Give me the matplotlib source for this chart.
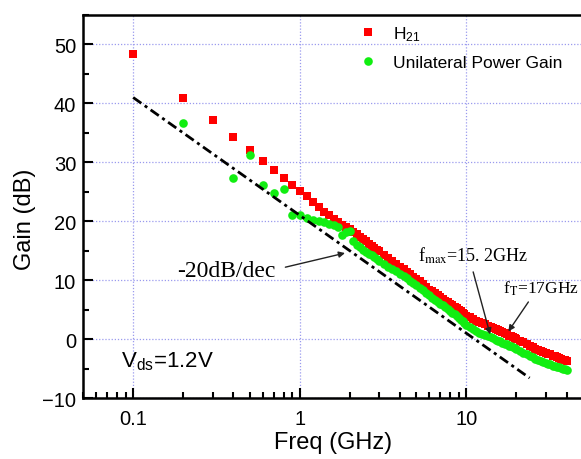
import numpy as np
import matplotlib
matplotlib.use("Agg")
import matplotlib.pyplot as plt
from matplotlib.ticker import MultipleLocator, NullFormatter

plt.rcParams["font.family"] = ["Liberation Sans", "DejaVu Sans"]
plt.rcParams["mathtext.fontset"] = "custom"
plt.rcParams["mathtext.rm"] = "Liberation Sans"
plt.rcParams["mathtext.it"] = "Liberation Sans:italic"

# === Data ===
freq_lo_h21 = [0.1, 0.2, 0.3, 0.4, 0.5, 0.6, 0.7, 0.8, 0.9]
h21_lo = [48.3, 40.9, 37.1, 34.3, 32.1, 30.2, 28.7, 27.4, 26.2]

freq_lo_ug = [0.2, 0.4, 0.5, 0.6, 0.7, 0.8, 0.9]
ug_lo = [36.6, 27.4, 31.3, 26.1, 24.8, 25.4, 21.1]

freq_hi = [1.0, 1.1, 1.2, 1.3, 1.4, 1.5, 1.6, 1.7, 1.8, 1.9,
           2.0, 2.1, 2.2, 2.3, 2.4, 2.5, 2.6, 2.7, 2.8, 2.9, 3.0,
           3.2, 3.4, 3.6, 3.8, 4.0, 4.2, 4.4, 4.6, 4.8, 5.0,
           5.25, 5.5, 5.75, 6.0, 6.25, 6.5, 6.75, 7.0, 7.25, 7.5,
           7.75, 8.0, 8.25, 8.5, 8.75, 9.0, 9.25, 9.5, 9.75, 10.0,
           10.5, 11.0, 11.5, 12.0, 12.5, 13.0, 13.5, 14.0, 14.5, 15.0,
           15.5, 16.0, 16.5, 17.0, 17.5, 18.0, 18.5, 19.0, 19.5, 20.0,
           21, 22, 23, 24, 25, 26, 27, 28, 29, 30,
           31, 32, 33, 34, 35, 36, 37, 38, 39, 40]

h21_hi = [25.1, 24.2, 23.2, 22.4, 21.6, 21.0, 20.4, 19.9, 19.4, 19.0,
          18.6, 18.2, 17.8, 17.4, 17.0, 16.6, 16.2, 15.8, 15.5, 15.2, 14.9,
          14.3, 13.8, 13.3, 12.8, 12.3, 11.9, 11.4, 11.0, 10.6, 10.2,
          9.8, 9.3, 8.9, 8.4, 8.1, 7.8, 7.4, 7.1, 6.8, 6.5,
          6.3, 6.0, 5.7, 5.4, 5.2, 4.9, 4.7, 4.4, 4.2, 4.0,
          3.7, 3.4, 3.1, 2.9, 2.7, 2.5, 2.3, 2.1, 1.9, 1.7,
          1.5, 1.3, 1.2, 1.0, 0.8, 0.6, 0.5, 0.3, 0.2, 0.0,
          -0.3, -0.5, -0.8, -1.1, -1.3, -1.6, -1.8, -2.0, -2.2, -2.3,
          -2.5, -2.6, -2.8, -2.9, -3.1, -3.2, -3.3, -3.5, -3.6, -3.7]

ug_hi = [21.0, 20.5, 20.2, 20.0, 19.8, 19.6, 19.3, 19.0, 17.7, 18.1,
         18.3, 16.6, 16.0, 15.6, 15.2, 14.8, 14.5, 14.2, 13.9, 13.6, 13.3,
         12.8, 12.3, 11.9, 11.5, 11.1, 10.7, 10.3, 9.9, 9.5, 9.2,
         8.7, 8.3, 7.8, 7.4, 7.0, 6.7, 6.3, 6.0, 5.7, 5.4,
         5.1, 4.8, 4.5, 4.2, 3.9, 3.6, 3.3, 3.0, 2.7, 2.4,
         2.1, 1.7, 1.4, 1.1, 0.9, 0.7, 0.5, 0.3, 0.1, -0.1,
         -0.3, -0.4, -0.6, -0.8, -0.9, -1.1, -1.2, -1.4, -1.5, -1.7,
         -2.0, -2.3, -2.6, -2.8, -3.1, -3.3, -3.5, -3.7, -3.9, -4.0,
         -4.2, -4.3, -4.5, -4.6, -4.7, -4.8, -4.9, -5.0, -5.1, -5.2]

# -20 dB/dec guide line
slope_f = [0.1, 24.0]
slope_db = [41.0, -6.6]

# === Plot ===
fig = plt.figure(figsize=(5.81, 4.6), dpi=100)
ax = fig.add_axes([0.1429, 0.1326, 0.86, 0.8326])

ax.plot(freq_lo_h21 + freq_hi, h21_lo + h21_hi, "s", color="#ff0000",
        markersize=5.4, markeredgewidth=0, label="H$_{21}$")
ax.plot(freq_lo_ug + freq_hi, ug_lo + ug_hi, "o", color="#11ee11",
        markersize=6.2, markeredgewidth=0, label="Unilateral Power Gain")
ax.plot(slope_f, slope_db, color="black", lw=2,
        linestyle=(0, (3.6, 1.5, 1.1, 1.5)))

ax.set_xscale("log")
ax.set_xlim(0.05, 50)
ax.set_ylim(-10, 55)
ax.set_xticks([0.1, 1, 10])
ax.set_xticklabels(["0.1", "1", "10"])
ax.xaxis.set_minor_formatter(NullFormatter())
ax.set_yticks([-10, 0, 10, 20, 30, 40, 50])
ax.yaxis.set_minor_locator(MultipleLocator(5))

ax.grid(True, which="major", color="#9a9aee", linestyle=(0, (1, 1.5)), lw=0.9)
ax.tick_params(which="both", direction="in", width=1.5, labelsize=14.5)
ax.tick_params(which="major", length=7)
ax.tick_params(which="minor", length=4)
ax.tick_params(axis="x", pad=8)
ax.tick_params(axis="y", pad=5)
ax.tick_params(top=False, right=False, which="both")
for side in ["left", "bottom", "top"]:
    ax.spines[side].set_linewidth(1.8)
ax.spines["right"].set_visible(False)

ax.set_xlabel("Freq (GHz)", fontsize=17, labelpad=2)
ax.set_ylabel("Gain (dB)", fontsize=17)
ax.yaxis.set_label_coords(-0.094, 0.47)

ax.legend(loc="upper left", bbox_to_anchor=(0.521, 1.017), frameon=False,
          fontsize=12.5, handlelength=1.0, handletextpad=0.95,
          labelspacing=0.68, borderpad=0.4, numpoints=1)

# === Annotations ===
serif = dict(family=["Liberation Serif", "DejaVu Serif"], math_fontfamily="stix")
arrow = dict(arrowstyle="-|>", color="#222222", lw=1,
             mutation_scale=9, shrinkA=0, shrinkB=0)

ax.text(0.184, 11.7, "-20dB/dec", fontsize=17, ha="left", va="center", **serif)
ax.annotate("", xy=(1.87, 14.6), xytext=(0.82, 12.2), arrowprops=arrow)

ax.text(5.14, 14.3, r"f$_{\mathrm{max}}$=15. 2GHz", fontsize=13,
        ha="left", va="center", **serif)
ax.annotate("", xy=(13.9, 0.8), xytext=(11.0, 11.4), arrowprops=arrow)

ax.text(16.6, 8.7, r"f$_{\mathrm{T}}$=17GHz", fontsize=12.5,
        ha="left", va="center", **serif)
ax.annotate("", xy=(17.9, 1.3), xytext=(23.6, 6.3), arrowprops=arrow)

ax.text(0.0847, -4.6, r"V$_{\mathrm{ds}}$=1.2V", fontsize=16,
        ha="left", va="baseline")

fig.savefig("out.png", dpi=100)
